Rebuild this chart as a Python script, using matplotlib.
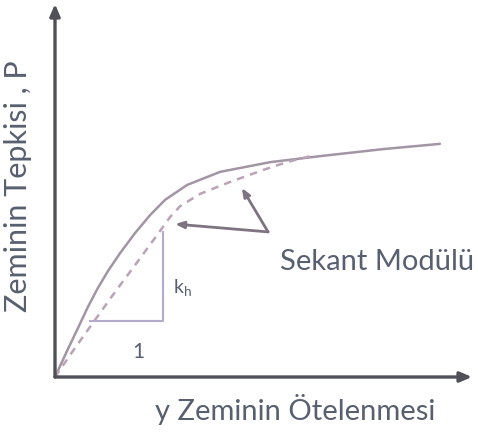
import matplotlib.pyplot as plt

plt.rcParams["font.family"] = ["Lato", "DejaVu Sans"]

# p-y curve (soil reaction vs. lateral displacement), arbitrary units
y_disp = [0.0, 0.12, 0.31, 0.55, 0.79, 1.03, 1.27, 1.56, 1.92, 2.28, 2.64, 3.17,
          3.96, 5.16, 6.35, 7.87, 9.23]
p_solid = [0.0, 0.29, 0.75, 1.31, 1.88, 2.39, 2.84, 3.32, 3.86, 4.34, 4.75, 5.15,
           5.50, 5.76, 5.92, 6.11, 6.25]

# secant curve
y_sec = [0.0, 0.48, 0.96, 1.44, 1.92, 2.40, 2.76, 3.00, 3.48, 4.20, 4.99, 5.56, 6.12]
p_sec = [0.0, 0.78, 1.53, 2.28, 3.00, 3.73, 4.29, 4.58, 4.91, 5.23, 5.55, 5.76, 5.92]

# slope triangle (1 : k_h)
tri_x = [0.84, 2.59, 2.59]
tri_y = [1.50, 1.50, 3.89]

# leader arrows for the secant modulus label
arrow_root = (5.11, 3.89)
arrow_tips = [(2.88, 4.10), (4.48, 5.07)]

text_color = "#586070"
axis_color = "#505058"

fig = plt.figure(figsize=(4.78, 4.39), dpi=100)
ax = fig.add_axes([55 / 478, 61 / 439, 417 / 478, 373 / 439])
ax.set_xlim(0, 10)
ax.set_ylim(0, 10)
ax.axis("off")

# axes with arrowheads
for end in [(10, 0), (0, 10)]:
    ax.annotate("", xy=end, xytext=(0, 0),
                arrowprops=dict(arrowstyle="-|>,head_length=0.7,head_width=0.3",
                                color=axis_color, lw=2.4, shrinkA=0, shrinkB=0))

ax.plot(y_disp, p_solid, color="#a295a4", lw=1.8, solid_capstyle="round",
        solid_joinstyle="round")
ax.plot(y_sec, p_sec, color="#bba3b6", lw=1.8, ls=(0, (3, 2.5)))

ax.plot(tri_x, tri_y, color="#b4aacb", lw=1.5)
ax.text(1.99, 0.70, "1", color=text_color, fontsize=15, ha="center", va="center")
ax.text(3.05, 2.41, "k$_\\mathregular{h}$", color=text_color, fontsize=14,
        ha="center", va="center")

for tip in arrow_tips:
    ax.annotate("", xy=tip, xytext=arrow_root,
                arrowprops=dict(arrowstyle="-|>,head_length=0.5,head_width=0.2",
                                color="#7e7480", lw=2.0, shrinkA=0, shrinkB=0))

ax.text(7.72, 3.11, "Sekant Modülü", color=text_color, fontsize=21,
        ha="center", va="center")

fig.text(295 / 478, 1 - 410 / 439, "y Zeminin Ötelenmesi", color=text_color,
         fontsize=21, ha="center", va="center")
fig.text(18 / 478, 1 - 186 / 439, "Zeminin Tepkisi , P", color=text_color,
         fontsize=22, ha="center", va="center", rotation=90)

fig.savefig("out.png", dpi=100, facecolor="white")
